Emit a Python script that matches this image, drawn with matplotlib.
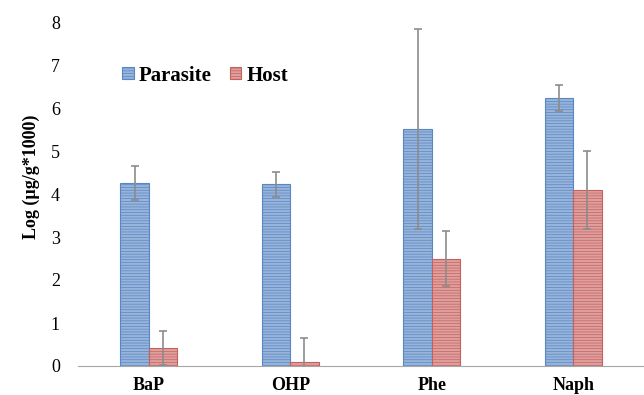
import numpy as np
import matplotlib
matplotlib.use("Agg")
import matplotlib.pyplot as plt

categories = ["BaP", "OHP", "Phe", "Naph"]
parasite = [4.26, 4.23, 5.51, 6.23]
parasite_err = [0.40, 0.29, 2.33, 0.30]
host = [0.42, 0.09, 2.50, 4.09]
host_err = [0.40, 0.57, 0.64, 0.90]

plt.rcParams['font.family'] = ['Liberation Serif', 'DejaVu Serif']
plt.rcParams['hatch.linewidth'] = 0.5

fig = plt.figure(figsize=(6.44, 3.95), dpi=100)
ax = fig.add_axes([78/644, 29/395, 566/644, 344/395])

x = np.arange(len(categories))
w = 0.2
err_kw = dict(ecolor='#8c8c8c', elinewidth=1.2, capsize=3, capthick=1.2)

# hatch colour is taken from rcParams when the patches are made
plt.rcParams['hatch.color'] = '#7499cc'
ax.bar(x - w/2, parasite, w, yerr=parasite_err, color='#97b4db',
       edgecolor='#5a87c2', linewidth=0.8, hatch='------',
       error_kw=err_kw, label='Parasite')
plt.rcParams['hatch.color'] = '#d08280'
ax.bar(x + w/2, host, w, yerr=host_err, color='#dea09f',
       edgecolor='#c6605c', linewidth=0.8, hatch='------',
       error_kw=err_kw, label='Host')

ax.set_xlim(-0.5, 3.5)
ax.set_ylim(0, 8)
ax.set_yticks(range(0, 9))
ax.set_xticks(x)
ax.set_xticklabels(categories, fontweight='bold', fontsize=13)
ax.tick_params(axis='y', length=0, labelsize=13, pad=13)
ax.tick_params(axis='x', length=0, labelsize=13, pad=8)
for s in ['top', 'right', 'left']:
    ax.spines[s].set_visible(False)
ax.spines['bottom'].set_color('#a6a6a6')
ax.set_ylabel('Log (µg/g*1000)', fontweight='bold', fontsize=13, labelpad=8)
ax.yaxis.label.set_y(0.55)

ax.legend(loc='upper left', bbox_to_anchor=(0.045, 0.928), ncol=2, frameon=False,
          prop={'weight': 'bold', 'size': 15}, handlelength=0.55, handleheight=0.55,
          handletextpad=0.25, columnspacing=0.87)

fig.savefig('out.png', dpi=100)
